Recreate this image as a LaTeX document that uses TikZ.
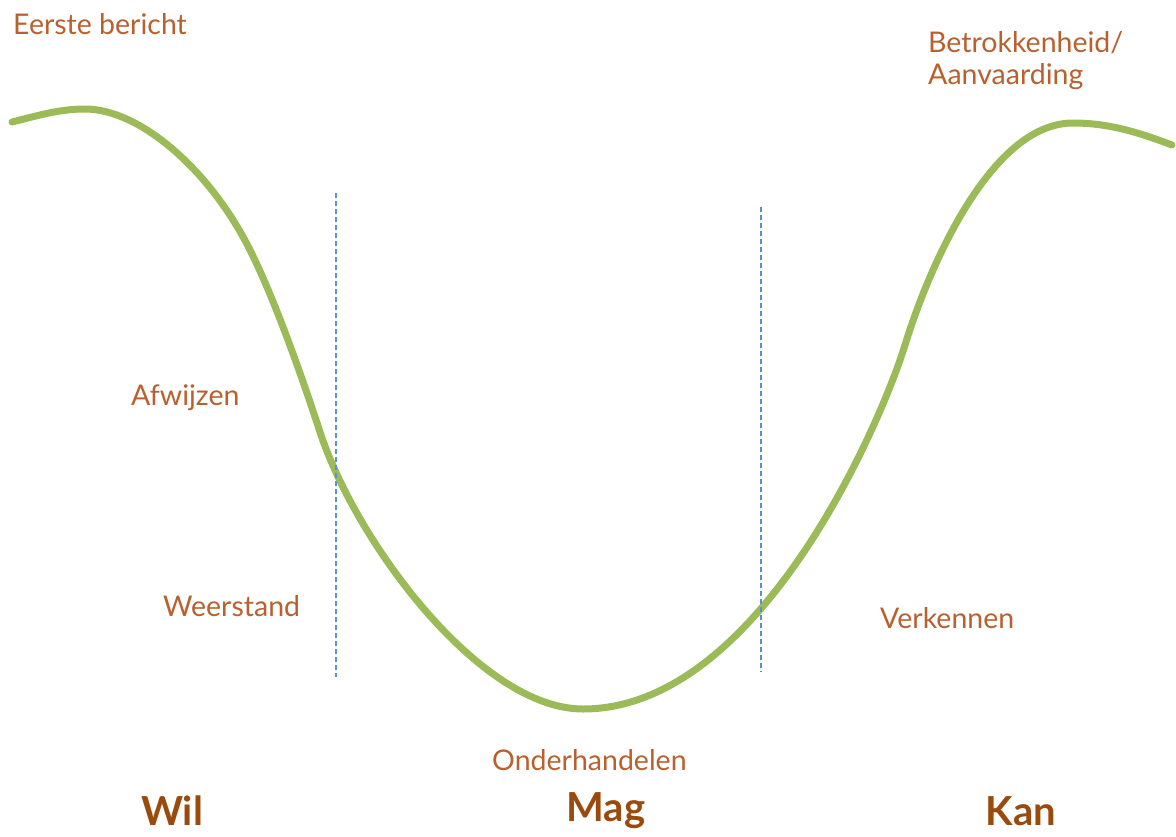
\documentclass[tikz,border=0pt]{standalone}
\usepackage{fontspec}
\setmainfont{Lato}
\definecolor{curvegreen}{HTML}{9BBB59}
\definecolor{dashblue}{HTML}{5B8FD0}
\definecolor{labelbrown}{HTML}{B8602E}
\definecolor{headbrown}{HTML}{9A4A0C}
\begin{document}
\begin{tikzpicture}[x=1pt,y=-1pt,
  lbl/.style={text=labelbrown,font=\fontsize{28.5}{32}\selectfont,inner sep=0pt,anchor=west,align=left},
  head/.style={text=headbrown,font=\fontsize{40}{44}\selectfont\bfseries,inner sep=0pt},
  divider/.style={dashblue,line width=1.1pt,dash pattern=on 5pt off 3pt},
  wave/.style={curvegreen,line width=7pt,line cap=round}]
\useasboundingbox (0,0) rectangle (1176,836);
\coordinate (s) at (12,122);
\coordinate (p1) at (85,109);
\coordinate (c1) at (250,250);
\coordinate (i1) at (320,432);
\coordinate (b) at (583,709);
\coordinate (i2) at (905,345);
\coordinate (p2) at (1073,123);
\coordinate (e) at (1172,145);
\draw[wave] (s) .. controls (40,115) and (60,109) .. (p1)
  .. controls (140,109) and (210,170) .. (c1)
  .. controls (275,300) and (302,377) .. (i1)
  .. controls (356,542) and (480,709) .. (b)
  .. controls (760,709) and (882,420) .. (i2)
  .. controls (928,270) and (990,123) .. (p2)
  .. controls (1110,123) and (1140,133) .. (e);
\coordinate (d1t) at (336,193); \coordinate (d1b) at (336,677);
\coordinate (d2t) at (761,207); \coordinate (d2b) at (761,672);
\draw[divider] (d1t) -- (d1b);
\draw[divider] (d2t) -- (d2b);
\node[lbl] (eerste) at (13,24) {Eerste bericht};
\node[lbl] (betr) at (928,61) {Betrokkenheid/\\Aanvaarding};
\node[lbl] (afw) at (131,398) {Afwijzen};
\node[lbl] (weer) at (163,606) {Weerstand};
\node[lbl] (verk) at (880,618) {Verkennen};
\node[lbl] (onder) at (492,760) {Onderhandelen};
\node[head] (wil) at (172,811) {Wil};
\node[head] (mag) at (606,811) {Mag};
\node[head] (kan) at (1021,811) {Kan};
\end{tikzpicture}
\end{document}
